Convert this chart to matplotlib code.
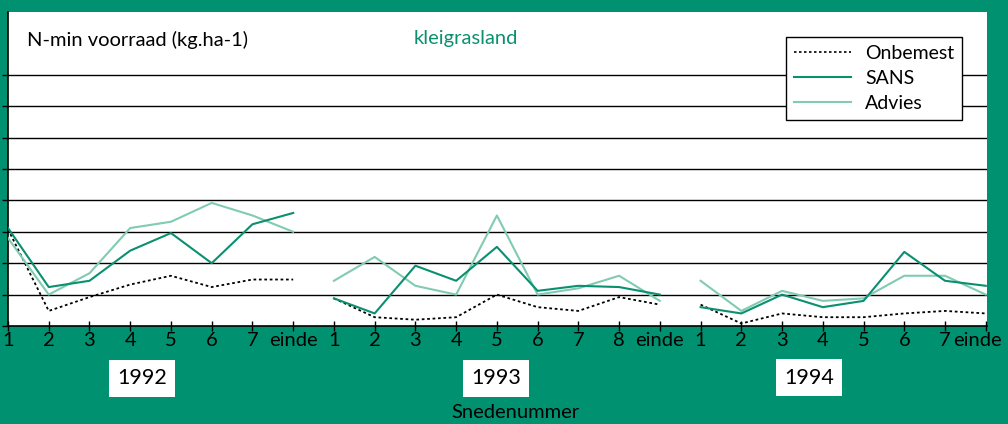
import matplotlib
matplotlib.use("Agg")
import matplotlib.pyplot as plt
import matplotlib.transforms as mtrans
from matplotlib.lines import Line2D
from matplotlib.patches import Rectangle

plt.rcParams['font.family'] = ['Lato', 'DejaVu Sans']

groen = '#009270'
donker = '#0a9070'
licht = '#80cbb2'

# sneden per jaar
jaren = ['1992', '1993', '1994']
sneden = [
    ['1', '2', '3', '4', '5', '6', '7', 'einde'],
    ['1', '2', '3', '4', '5', '6', '7', '8', 'einde'],
    ['1', '2', '3', '4', '5', '6', '7', 'einde'],
]

onbemest = [
    [77, 12, 23, 33, 40, 31, 37, 37],
    [22, 7, 5, 7, 25, 15, 12, 23, 17],
    [17, 2, 10, 7, 7, 10, 12, 10],
]
sans = [
    [78, 31, 36, 60, 74, 50, 81, 90],
    [22, 10, 48, 36, 63, 28, 32, 31, 25],
    [15, 10, 25, 15, 20, 59, 36, 32],
]
advies = [
    [70, 25, 42, 78, 83, 98, 88, 75],
    [36, 55, 32, 25, 88, 25, 30, 40, 20],
    [36, 12, 28, 20, 22, 40, 40, 25],
]

fig = plt.figure(figsize=(10.08, 4.24), dpi=100, facecolor=groen)
ax = fig.add_axes([8 / 1008, (424 - 326) / 424, 979 / 1008, 314 / 424])
ax.set_facecolor('white')

start = 0
ticks = []
labels = []
for j in range(3):
    n = len(sneden[j])
    x = list(range(start, start + n))
    ax.plot(x, onbemest[j], color='black', lw=1.3, ls=(0, (1.5, 1.5)), zorder=3)
    ax.plot(x, advies[j], color=licht, lw=1.5, zorder=3)
    ax.plot(x, sans[j], color=donker, lw=1.5, zorder=4)
    ticks += x
    labels += sneden[j]
    start += n

ax.set_xlim(0, 24.03)
ax.set_ylim(0, 250)
ax.set_yticks(range(0, 201, 25))
ax.set_yticklabels([])
for y in range(25, 201, 25):
    ax.axhline(y, color='black', lw=1.0, zorder=1)

ax.set_xticks(ticks)
ax.set_xticklabels(labels, fontsize=14.5)
ax.tick_params(axis='x', direction='inout', length=7, width=1, pad=1)
ax.tick_params(axis='y', direction='out', length=4, width=1)
for s in ['top', 'right']:
    ax.spines[s].set_visible(False)
ax.spines['left'].set_linewidth(1.2)
ax.spines['bottom'].set_linewidth(1.2)

# laatste 'einde' iets naar links, anders valt hij buiten beeld
laatste = ax.get_xticklabels()[-1]
laatste.set_transform(laatste.get_transform() +
                      mtrans.ScaledTranslation(-8 / 100, 0, fig.dpi_scale_trans))

ax.text(0.0195, 0.91, 'N-min voorraad (kg.ha-1)', transform=ax.transAxes,
        fontsize=14.5, va='center', ha='left')
ax.text(0.468, 0.915, 'kleigrasland', transform=ax.transAxes,
        fontsize=14.5, va='center', ha='center', color=donker)

h = [Line2D([], [], color='black', lw=1.2, ls=(0, (1.5, 1.5))),
     Line2D([], [], color=donker, lw=1.5),
     Line2D([], [], color=licht, lw=1.5)]
leg = ax.legend(h, ['Onbemest', 'SANS', 'Advies'], loc='upper right',
                bbox_to_anchor=(962 / 1008, 1 - 37 / 424),
                bbox_transform=fig.transFigure, borderaxespad=0,
                fontsize=14, frameon=True, fancybox=False, framealpha=1,
                edgecolor='black', handlelength=2.9, handletextpad=0.75,
                labelspacing=0.42, borderpad=0.4)
leg.get_frame().set_linewidth(1.0)

# jaarvakjes
boxen = [(109, 360), (463, 360), (776, 359)]
for (bx, by), jaar in zip(boxen, jaren):
    fig.patches.append(Rectangle((bx / 1008, 1 - (by + 37) / 424), 66 / 1008, 37 / 424,
                                 transform=fig.transFigure, facecolor='white',
                                 edgecolor='none'))
    fig.text((bx + 33) / 1008, 1 - (by + 18.5) / 424, jaar, fontsize=15.5,
             ha='center', va='center')

fig.text(515 / 1008, 1 - 412 / 424, 'Snedenummer', fontsize=14.5, ha='center', va='center')

fig.savefig('out.png', dpi=100, facecolor=groen)
